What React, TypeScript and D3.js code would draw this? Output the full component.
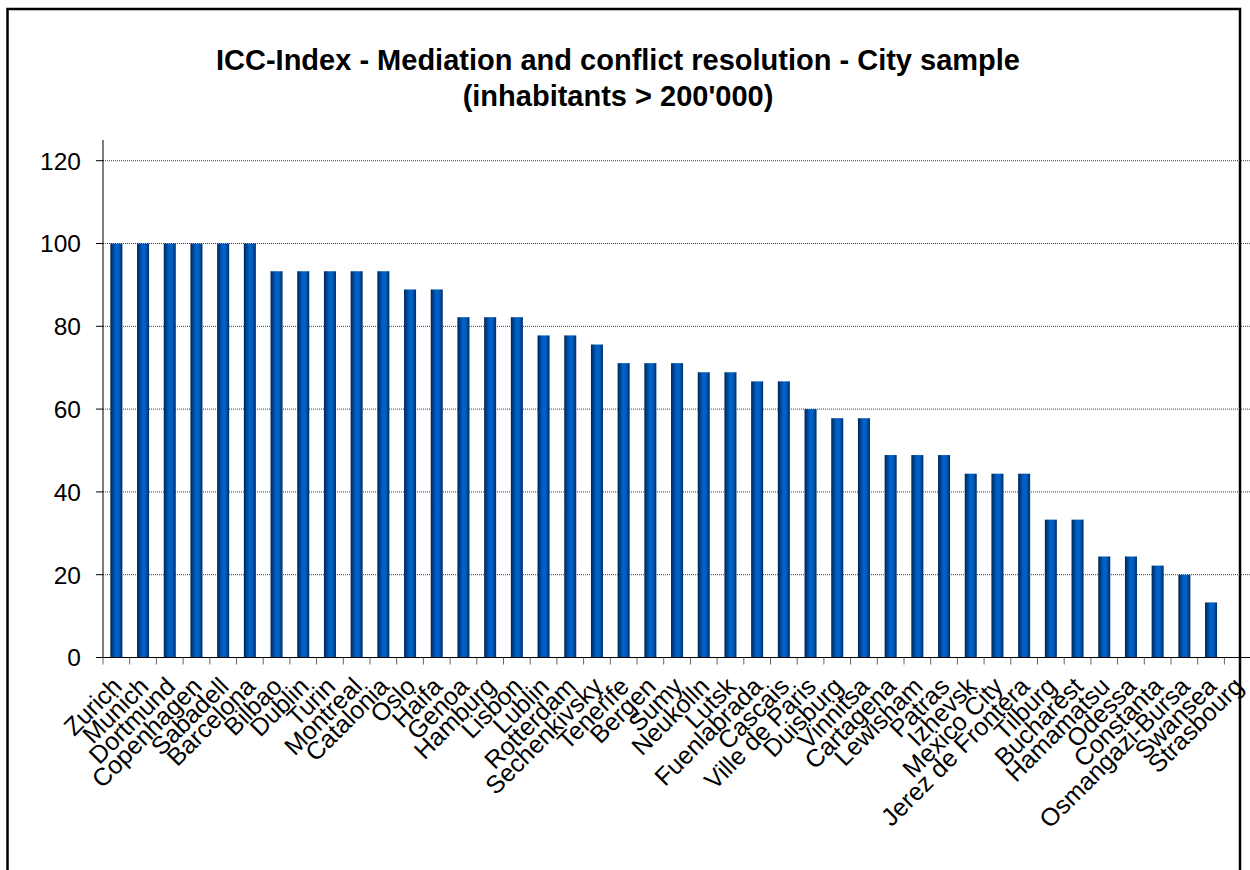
import React from 'react';
import * as d3 from 'd3';

const cities = [
  'Zurich', 'Munich', 'Dortmund', 'Copenhagen', 'Sabadell', 'Barcelona',
  'Bilbao', 'Dublin', 'Turin', 'Montreal', 'Catalonia', 'Oslo', 'Haifa',
  'Genoa', 'Hamburg', 'Lisbon', 'Lublin', 'Rotterdam', 'Sechenkivsky',
  'Tenerife', 'Bergen', 'Sumy', 'Neukolln', 'Lutsk', 'Fuenlabrada',
  'Cascais', 'Ville de Paris', 'Duisburg', 'Vinnitsa', 'Cartagena',
  'Lewisham', 'Patras', 'Izhevsk', 'Mexico City', 'Jerez de Frontera',
  'Tilburg', 'Bucharest', 'Hamamatsu', 'Odessa', 'Constanta',
  'Osmangazi-Bursa', 'Swansea', 'Strasbourg',
];

const scores = [
  100, 100, 100, 100, 100, 100,
  93.3, 93.3, 93.3, 93.3, 93.3, 88.9, 88.9,
  82.2, 82.2, 82.2, 77.8, 77.8, 75.6,
  71.1, 71.1, 71.1, 68.9, 68.9, 66.7,
  66.7, 60, 57.8, 57.8, 48.9,
  48.9, 48.9, 44.4, 44.4, 44.4,
  33.3, 33.3, 24.4, 24.4, 22.2,
  20, 13.3, 0,
];

const yTicks = [0, 20, 40, 60, 80, 100, 120];

const titleLines = [
  'ICC-Index - Mediation and conflict resolution - City sample',
  "(inhabitants > 200'000)",
];

const W = 1250;
const H = 870;
const font = '"Liberation Sans", Arial, sans-serif';

const App: React.FC = () => {
  const left = 103;
  const step = 26.7;

  const x = d3.scaleBand<string>()
    .domain(cities)
    .range([left, left + step * cities.length])
    .paddingInner(0.55)
    .paddingOuter(0.275);

  const y = d3.scaleLinear()
    .domain([0, 125])
    .range([657.5, 140]);

  const bw = x.bandwidth();
  const stepX = x.step();
  const x0 = x.range()[0];

  return (
    <svg width={W} height={H} style={{ position: 'absolute', left: 0, top: 0, background: '#fff' }}>
      <defs>
        <linearGradient id="barGrad" x1="0" x2="1" y1="0" y2="0">
          <stop offset="0" stopColor="#00214d" />
          <stop offset="0.15" stopColor="#003a80" />
          <stop offset="0.45" stopColor="#0062c8" />
          <stop offset="0.7" stopColor="#005ec2" />
          <stop offset="1" stopColor="#002c63" />
        </linearGradient>
      </defs>

      {/* Frame */}
      <rect x={7.5} y={9} width={1232.5} height={1000} fill="none" stroke="#000" strokeWidth={2.5} />

      {/* Title */}
      <g fontFamily={font} fontWeight="bold" fontSize={29} textAnchor="middle">
        {titleLines.map((t, i) => (
          <text key={i} x={618} y={70 + i * 36}>{t}</text>
        ))}
      </g>

      {/* Gridlines */}
      {yTicks.filter(d => d > 0).map(d => (
        <line key={d} x1={left} x2={W} y1={y(d)} y2={y(d)}
          stroke="#3a3a3a" strokeWidth={1} strokeDasharray="1 1" />
      ))}

      {/* Bars */}
      {cities.map((c, i) => (
        <rect key={c} x={x(c)} y={y(scores[i])} width={bw}
          height={y(0) - y(scores[i])} fill="url(#barGrad)" />
      ))}

      {/* Y axis */}
      <line x1={left} x2={left} y1={140} y2={y(0)} stroke="#000" strokeWidth={1} />
      {yTicks.map(d => (
        <g key={d}>
          <line x1={96} x2={left} y1={y(d)} y2={y(d)} stroke="#000" strokeWidth={1} />
          <text x={81} y={y(d)} dy="0.36em" textAnchor="end" fontFamily={font} fontSize={24.5}>{d}</text>
        </g>
      ))}

      {/* X axis */}
      <line x1={left} x2={W} y1={y(0)} y2={y(0)} stroke="#000" strokeWidth={1.2} />
      {d3.range(cities.length + 1).map(k => (
        <line key={k} x1={x0 + k * stepX} x2={x0 + k * stepX} y1={y(0)} y2={y(0) + 7}
          stroke="#666" strokeWidth={1} />
      ))}
      {cities.map(c => {
        const cx = (x(c) ?? 0) + bw / 2;
        return (
          <text key={c} transform={`translate(${cx + 7},${688}) rotate(-45)`}
            textAnchor="end" fontFamily={font} fontSize={25}>{c}</text>
        );
      })}
    </svg>
  );
};

export default App;
